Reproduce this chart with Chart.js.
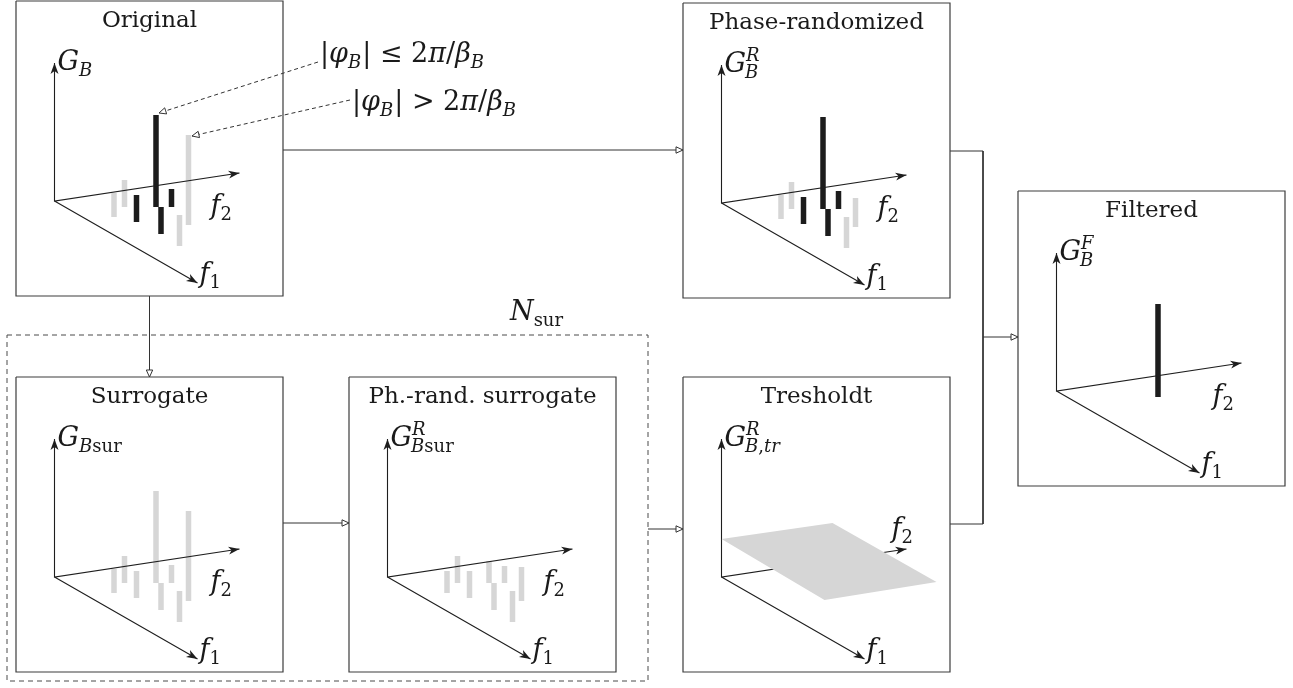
<!DOCTYPE html>
<html>
<head>
<meta charset="utf-8">
<script src="https://cdn.jsdelivr.net/npm/chart.js@4.4.1/dist/chart.umd.min.js"></script>
<style>
  html, body { margin: 0; padding: 0; background: #fff; overflow: hidden; }
</style>
</head>
<body>
<canvas id="diagram" width="1293" height="688"></canvas>
<script>
/* ============================================================
   Bispectrum filtering scheme - drawn on one linear x/y frame
   ============================================================ */

// panels (0 Original, 1 Phase-randomized, 2 Filtered, 3 Surrogate, 4 Ph.-rand. surrogate, 5 Tresholdt)
const panelTitles = ['Original', 'Phase-randomized', 'Filtered', 'Surrogate', 'Ph.-rand. surrogate', 'Tresholdt'];
const panelLeft = [16, 683, 1018, 16, 349, 683];
const panelTop = [1, 3, 191, 377, 377, 377];

// bars: position along the frequency plane, foot level and height (local units)
const barPos = [59.5, 70, 82, 101.5, 106.5, 117, 125, 134];
const barFoot = [16, 6, 21, 6, 33, 6, 45, 24];
const heightsOriginal = [24, 27, 27, 92, 27, 18, 31, 90];
const heightsPhaseRand = [24, 27, 27, 92, 27, 18, 31, 29];
const heightsFiltered = [0, 0, 0, 93, 0, 0, 0, 0];
const heightsSurrogate = [24, 27, 27, 92, 27, 18, 31, 90];
const heightsSurRand = [22, 27, 27, 22, 27, 17, 31, 34];
// |phi_B| <= 2pi/beta_B  -> drawn black
const phaseSmall = [false, false, true, true, true, true, false, false];

// threshold plane corners (Tresholdt panel)
const planeX = [0, 111, 215, 103];
const planeY = [-38, -54, 5, 23];

// axis ends in local units: G, f2, f1
const axisEndX = [0, 185, 143];
const axisEndY = [-138, -28, 82];

const PW = 267, PH = 295, OX = 38.5, OY = 200;
const GAP = { x: null, y: null };

function loc(p, lx, ly) {
  return { x: panelLeft[p] + OX + lx, y: panelTop[p] + OY + ly };
}

// ---------- build point lists ----------
const boxPts = [];
panelLeft.forEach((l, p) => {
  const t = panelTop[p];
  boxPts.push({ x: l, y: t }, { x: l + PW, y: t }, { x: l + PW, y: t + PH }, { x: l, y: t + PH }, { x: l, y: t }, GAP);
});

const axisPts = [];
const axisArrows = [];
panelLeft.forEach((l, p) => {
  const o = loc(p, 0, 0);
  const g = loc(p, axisEndX[0], axisEndY[0]);
  const f2 = loc(p, axisEndX[1], axisEndY[1]);
  const f1 = loc(p, axisEndX[2], axisEndY[2]);
  axisPts.push(g, o, f2, GAP, o, f1, GAP);
  axisArrows.push([o, g], [o, f2], [o, f1]);
});

const blackPts = [], grayPts = [];
const barPanels = [[0, heightsOriginal, true], [1, heightsPhaseRand, true], [2, heightsFiltered, true],
                   [3, heightsSurrogate, false], [4, heightsSurRand, false]];
barPanels.forEach(([p, hs, colored]) => {
  hs.forEach((h, i) => {
    if (h <= 0) return;
    const target = colored && phaseSmall[i] ? blackPts : grayPts;
    target.push(loc(p, barPos[i], barFoot[i]), loc(p, barPos[i], barFoot[i] - h), GAP);
  });
});

const planePts = planeX.map((x, i) => loc(5, x, planeY[i]));
planePts.push(planePts[0]);

// flow connectors (solid), the last two points give the arrow direction
const flows = [
  [{ x: 283, y: 150 }, { x: 683, y: 150 }],
  [{ x: 149.5, y: 296 }, { x: 149.5, y: 377 }],
  [{ x: 283, y: 523 }, { x: 349, y: 523 }],
  [{ x: 648, y: 529 }, { x: 683, y: 529 }],
  [{ x: 983, y: 337 }, { x: 1018, y: 337 }]
];
const bracket = [{ x: 950, y: 151 }, { x: 983, y: 151 }, { x: 983, y: 524 }, { x: 950, y: 524 }];
const pointers = [
  [{ x: 318, y: 62 }, { x: 159, y: 113 }],
  [{ x: 350, y: 100 }, { x: 192, y: 136 }]
];
const dashedBox = [{ x: 7, y: 335 }, { x: 648, y: 335 }, { x: 648, y: 681 }, { x: 7, y: 681 }, { x: 7, y: 335 }];

const flowPts = [];
flows.forEach(f => flowPts.push(...f, GAP));
flowPts.push(...bracket, GAP);
const pointerPts = [];
pointers.forEach(f => pointerPts.push(...f, GAP));

function lineSet(data, color, width, order, extra) {
  return Object.assign({
    type: 'line', data, borderColor: color, borderWidth: width, pointRadius: 0,
    showLine: true, spanGaps: false, tension: 0, fill: false, order
  }, extra || {});
}

const datasets = [
  lineSet(planePts, 'rgba(0,0,0,0)', 0, 1, { fill: 'shape', backgroundColor: '#d6d6d6' }),
  lineSet(axisPts, '#1e1e1e', 1.1, 2),
  lineSet(blackPts, '#1c1c1c', 5.5, 3),
  lineSet(grayPts, '#d6d6d6', 5.5, 4),
  lineSet(boxPts, '#3c3c3c', 1.2, 5),
  lineSet(flowPts, '#333', 1, 5),
  lineSet(pointerPts, '#333', 1, 5, { borderDash: [4, 3] }),
  lineSet(dashedBox, '#4a4a4a', 1, 5, { borderDash: [5, 4] })
];

// ---------- arrowheads ----------
function px(chart, pt) {
  return [chart.scales.x.getPixelForValue(pt.x), chart.scales.y.getPixelForValue(pt.y)];
}
function head(ctx, from, to, len, half, notch, open) {
  const dx = to[0] - from[0], dy = to[1] - from[1];
  const d = Math.hypot(dx, dy), ux = dx / d, uy = dy / d, nx = -uy, ny = ux;
  const bx = to[0] - ux * len, by = to[1] - uy * len;
  ctx.beginPath();
  ctx.moveTo(to[0], to[1]);
  ctx.lineTo(bx + nx * half, by + ny * half);
  ctx.lineTo(to[0] - ux * (len - notch), to[1] - uy * (len - notch));
  ctx.lineTo(bx - nx * half, by - ny * half);
  ctx.closePath();
  if (open) {
    ctx.fillStyle = '#fff'; ctx.fill();
    ctx.strokeStyle = '#333'; ctx.lineWidth = 1; ctx.stroke();
  } else {
    ctx.fillStyle = '#1e1e1e'; ctx.fill();
  }
}
const arrowPlugin = {
  id: 'arrowheads',
  afterDatasetsDraw(chart) {
    const ctx = chart.ctx;
    ctx.save();
    axisArrows.forEach(([a, b]) => head(ctx, px(chart, a), px(chart, b), 11, 4, 3, false));
    flows.concat(pointers).forEach(f => head(ctx, px(chart, f[f.length - 2]), px(chart, f[f.length - 1]), 7, 3.2, 0, true));
    ctx.restore();
  }
};

// ---------- text ----------
const SERIF = '"DejaVu Serif", "Liberation Serif", serif';
function runWidth(ctx, run, size) {
  let w = 0;
  run.forEach(([t, it]) => { ctx.font = (it ? 'italic ' : '') + size + 'px ' + SERIF; w += ctx.measureText(t).width; });
  return w;
}
function drawRun(ctx, run, x, y, size) {
  run.forEach(([t, it]) => {
    ctx.font = (it ? 'italic ' : '') + size + 'px ' + SERIF;
    ctx.fillText(t, x, y);
    x += ctx.measureText(t).width;
  });
  return x;
}
function drawMath(ctx, tokens, x, y, size) {
  const small = Math.round(size * 0.68);
  tokens.forEach(tk => {
    if (tk.t !== undefined) {
      x = drawRun(ctx, [[tk.t, tk.i]], x, y, size);
    } else {
      let w = 0;
      if (tk.sup) { drawRun(ctx, tk.sup, x, y - size * 0.4, small); w = Math.max(w, runWidth(ctx, tk.sup, small)); }
      if (tk.sub) { drawRun(ctx, tk.sub, x - (tk.sup ? 1 : 0), y + size * 0.22, small); w = Math.max(w, runWidth(ctx, tk.sub, small)); }
      x += w + 1;
    }
  });
}

const gLabels = [
  [{ t: 'G', i: 1 }, { sub: [['B', 1]] }],
  [{ t: 'G', i: 1 }, { sup: [['R', 1]], sub: [['B', 1]] }],
  [{ t: 'G', i: 1 }, { sup: [['F', 1]], sub: [['B', 1]] }],
  [{ t: 'G', i: 1 }, { sub: [['B', 1], ['sur', 0]] }],
  [{ t: 'G', i: 1 }, { sup: [['R', 1]], sub: [['B', 1], ['sur', 0]] }],
  [{ t: 'G', i: 1 }, { sup: [['R', 1]], sub: [['B', 1], [',', 0], ['tr', 1]] }]
];
const f1Label = [{ t: 'f', i: 1 }, { sub: [['1', 0]] }];
const f2Label = [{ t: 'f', i: 1 }, { sub: [['2', 0]] }];
const f2Pos = [[156, 13], [156, 13], [156, 13], [156, 13], [156, 13], [170, -40]];
const noteSmall = [{ t: '|', i: 0 }, { t: 'φ', i: 1 }, { sub: [['B', 1]] }, { t: '| ≤ 2', i: 0 }, { t: 'π', i: 1 },
                   { t: '/', i: 0 }, { t: 'β', i: 1 }, { sub: [['B', 1]] }];
const noteLarge = [{ t: '|', i: 0 }, { t: 'φ', i: 1 }, { sub: [['B', 1]] }, { t: '| > 2', i: 0 }, { t: 'π', i: 1 },
                   { t: '/', i: 0 }, { t: 'β', i: 1 }, { sub: [['B', 1]] }];
const nSurLabel = [{ t: 'N', i: 1 }, { sub: [['sur', 0]] }];

const textPlugin = {
  id: 'labels',
  afterDraw(chart) {
    const ctx = chart.ctx;
    ctx.save();
    ctx.fillStyle = '#1a1a1a';
    ctx.textBaseline = 'alphabetic';
    panelTitles.forEach((title, p) => {
      const [cx, cy] = px(chart, { x: panelLeft[p] + PW / 2, y: panelTop[p] + 26 });
      ctx.font = '23px ' + SERIF;
      ctx.textAlign = 'center';
      ctx.fillText(title, cx, cy);
      ctx.textAlign = 'left';
      const g = px(chart, loc(p, 3, -131));
      drawMath(ctx, gLabels[p], g[0], g[1], 27);
      const a = px(chart, loc(p, f2Pos[p][0], f2Pos[p][1]));
      drawMath(ctx, f2Label, a[0], a[1], 27);
      const b = px(chart, loc(p, 145, 81));
      drawMath(ctx, f1Label, b[0], b[1], 27);
    });
    let q = px(chart, { x: 320, y: 62 });
    drawMath(ctx, noteSmall, q[0], q[1], 27);
    q = px(chart, { x: 352, y: 110 });
    drawMath(ctx, noteLarge, q[0], q[1], 27);
    q = px(chart, { x: 510, y: 320 });
    drawMath(ctx, nSurLabel, q[0], q[1], 27);
    ctx.restore();
  }
};

new Chart(document.getElementById('diagram'), {
  type: 'scatter',
  data: { datasets },
  options: {
    responsive: false,
    animation: false,
    devicePixelRatio: 1,
    events: [],
    layout: { padding: 0 },
    scales: {
      x: { type: 'linear', min: 0, max: 1293, display: false },
      y: { type: 'linear', min: 0, max: 688, reverse: true, display: false }
    },
    plugins: { legend: { display: false }, tooltip: { enabled: false } }
  },
  plugins: [arrowPlugin, textPlugin]
});
</script>
</body>
</html>
